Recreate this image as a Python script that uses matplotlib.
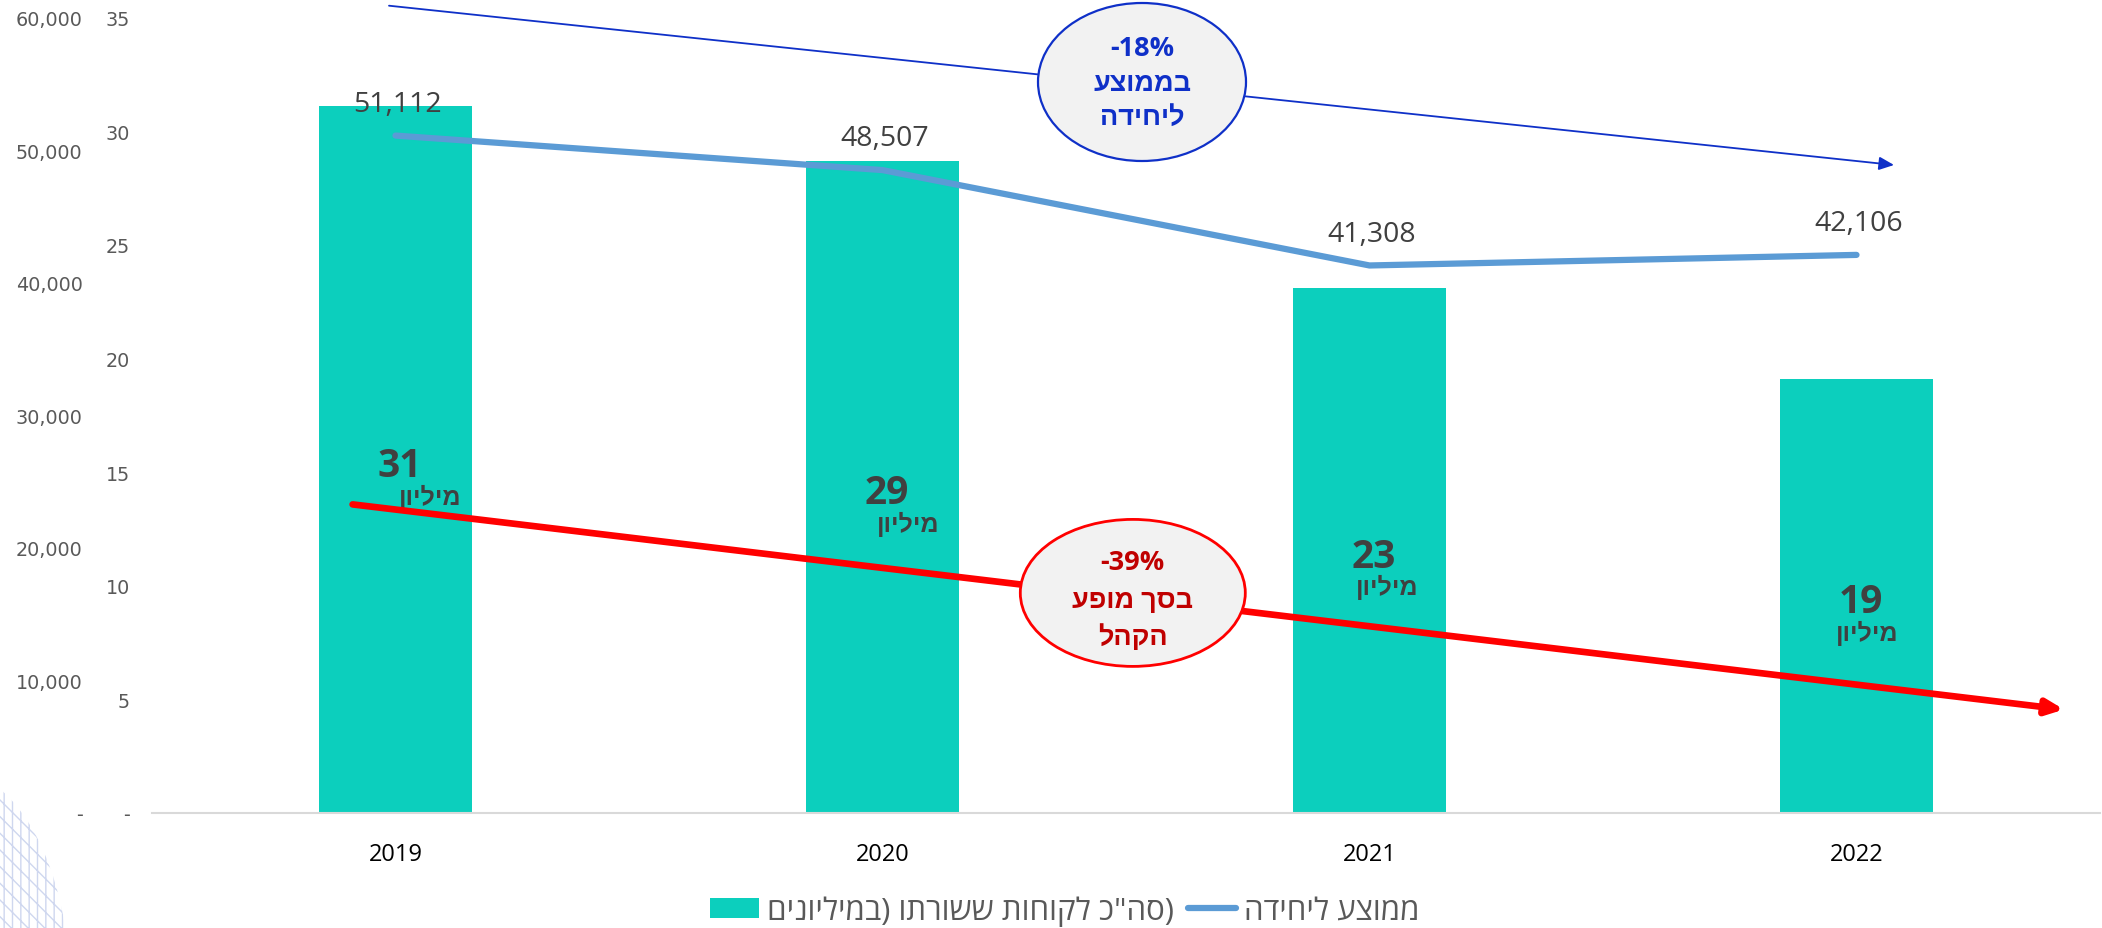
import matplotlib
matplotlib.use('Agg')
import matplotlib.pyplot as plt
from matplotlib.patches import Ellipse, Patch
from matplotlib.lines import Line2D
from matplotlib.ticker import FuncFormatter, MultipleLocator

# ---------------- data ----------------
years = ['2019', '2020', '2021', '2022']
customers_millions = [31.1, 28.7, 23.1, 19.1]          # bars (left inner axis)
avg_per_unit = [51112, 48507, 41308, 42106]              # line (left outer axis)
unit_word = 'ןוילימ'                                      # "מיליון" in visual order
legend_bar = 'םינוילימב) ותרושש תוחוקל כ"הס)'            # legend text, visual order
legend_line = 'הדיחיל עצוממ'                              # "ממוצע ליחידה" visual order
blue_note = ['-18%', 'עצוממב', 'הדיחיל']
red_note = ['-39%', 'עפומ ךסב', 'להקה']

# ---------------- style ----------------
FONT = ['Open Sans', 'Liberation Sans', 'DejaVu Sans']
AXFONT = ['DejaVu Sans']
BAR_C = '#0CCFBD'
LINE_C = '#5B9BD5'
BLUE = '#0F30C8'
RED = '#FF0000'
DARKRED = '#C00000'
W, H = 2102, 929

fig = plt.figure(figsize=(W / 100, H / 100), dpi=100)
fig.patch.set_facecolor('white')

left, right, top, bottom = 152, 2100, 18.8, 813.8
ax = fig.add_axes([left / W, 1 - bottom / H, (right - left) / W, (bottom - top) / H])

x = list(range(len(years)))
ax.bar(x, customers_millions, width=0.314, color=BAR_C, zorder=2)
ax.set_xlim(-0.5, len(years) - 0.5)
ax.set_ylim(0, 35)
ax.yaxis.set_major_locator(MultipleLocator(5))

def fmt(v, p):
    return '-' if abs(v) < 1e-9 else f'{v:,.0f}'

ax.yaxis.set_major_formatter(FuncFormatter(fmt))
for s in ['top', 'right', 'left']:
    ax.spines[s].set_visible(False)
ax.spines['bottom'].set_color('#D9D9D9')
ax.spines['bottom'].set_linewidth(1.5)
ax.tick_params(axis='y', length=0, pad=16, labelsize=13.8, labelcolor='#595959')
ax.tick_params(axis='x', length=0, pad=21, labelsize=17, labelcolor='#000000')
ax.set_xticks(x)
ax.set_xticklabels(years, family=FONT)
for t in ax.get_yticklabels():
    t.set_family(AXFONT)

# bar labels
unit_dx = [25, 18.5, 13, 8]
for xi, v, dx in zip(x, customers_millions, unit_dx):
    ax.annotate(f'{round(v)}', (xi, v / 2), xytext=(3, -4), textcoords='offset points',
                ha='center', va='center', fontsize=28, fontweight='bold',
                color='#404040', family=FONT, zorder=4)
    ax.annotate(unit_word, (xi, v / 2), xytext=(dx, -27), textcoords='offset points',
                ha='center', va='center', fontsize=18, fontweight='bold',
                color='#404040', family=FONT, zorder=4)

# line on outer axis
ax2 = ax.twinx()
ax2.set_ylim(0, 60000)
ax2.yaxis.set_major_locator(MultipleLocator(10000))
ax2.yaxis.set_major_formatter(FuncFormatter(fmt))
ax2.yaxis.set_ticks_position('left')
ax2.yaxis.set_label_position('left')
for s in ['top', 'right', 'left', 'bottom']:
    ax2.spines[s].set_visible(False)
ax2.tick_params(axis='y', length=0, pad=50, labelsize=13.8, labelcolor='#595959',
                left=False, right=False, labelleft=True, labelright=False)
for t in ax2.get_yticklabels():
    t.set_family(AXFONT)
ax2.plot(x, avg_per_unit, color=LINE_C, lw=4.5, solid_capstyle='round',
         solid_joinstyle='round', zorder=3)
for xi, v in zip(x, avg_per_unit):
    ax2.annotate(f'{v:,}', (xi, v), xytext=(1.5, 23), textcoords='offset points',
                 ha='center', va='center', fontsize=20.5, color='#404040', family=FONT)

# legend
handles = [Patch(facecolor=BAR_C, edgecolor='none'),
           Line2D([0], [0], color=LINE_C, lw=4.5, solid_capstyle='round')]
leg = fig.legend(handles, [legend_bar, legend_line], loc='center',
                 bbox_to_anchor=(1065 / W, 1 - 911.6 / H), ncol=2, frameon=False,
                 prop={'family': FONT, 'size': 22.5}, handlelength=1.55,
                 handleheight=0.62, handletextpad=0.25, columnspacing=0.45,
                 borderpad=0)
for t in leg.get_texts():
    t.set_color('#595959')

# overlay for annotations (pixel coordinates)
ov = fig.add_axes([0, 0, 1, 1])
ov.set_xlim(0, W)
ov.set_ylim(H, 0)
ov.axis('off')
ov.set_zorder(5)
ov.patch.set_alpha(0)

# decorative faint globe at bottom-left
ov.add_patch(Ellipse((-50, 990), 240, 440, facecolor='none', edgecolor='#C3CDEB',
                     hatch='\\\\||', lw=0, alpha=0.8, zorder=0))

# blue arrow + bubble
ov.annotate('', xy=(1894, 166), xytext=(389, 6.7),
            arrowprops=dict(arrowstyle='-|>,head_length=0.9,head_width=0.4',
                            color=BLUE, lw=1.3, shrinkA=0, shrinkB=0))
ov.add_patch(Ellipse((1142, 83), 208, 158, facecolor='#F2F2F2', edgecolor=BLUE,
                     lw=1.6, zorder=3))
for s, yy in zip(blue_note, [49, 84, 118]):
    ov.text(1142, yy, s, ha='center', va='center', fontsize=19.5, fontweight='bold',
            color=BLUE, family=FONT, zorder=4)

# red arrow + bubble
ov.annotate('', xy=(2064, 710.5), xytext=(352.6, 505.4),
            arrowprops=dict(arrowstyle='-|>,head_length=1.0,head_width=0.45',
                            color=RED, lw=4.8, shrinkA=0, shrinkB=0))
ov.add_patch(Ellipse((1132.8, 593.9), 225, 147, facecolor='#F2F2F2', edgecolor=RED,
                     lw=2, zorder=3))
for s, yy in zip(red_note, [563, 601, 638]):
    ov.text(1132.8, yy, s, ha='center', va='center', fontsize=19.5, fontweight='bold',
            color=DARKRED, family=FONT, zorder=4)

fig.savefig('out.png', dpi=100, facecolor='white')
